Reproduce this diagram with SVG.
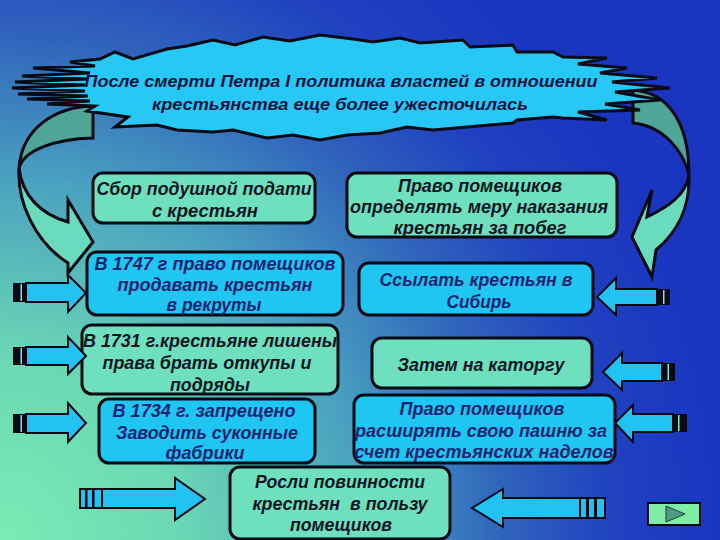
<svg xmlns="http://www.w3.org/2000/svg" width="720" height="540" viewBox="0 0 720 540">
  <defs>
    <radialGradient id="bgGrad" gradientUnits="userSpaceOnUse" cx="0" cy="540" r="720">
      <stop offset="0" stop-color="#7aecb4"/>
      <stop offset="0.25" stop-color="#6ad8b4"/>
      <stop offset="0.5" stop-color="#4aa2c0"/>
      <stop offset="0.7" stop-color="#3064bc"/>
      <stop offset="0.85" stop-color="#2042c0"/>
      <stop offset="1" stop-color="#1a36c0"/>
    </radialGradient>
    <style>
      .box-m { fill: #6fe0be; stroke: #0a0a14; stroke-width: 3; }
      .box-c { fill: #20c6f2; stroke: #0a0a14; stroke-width: 3; }
      .t { font-family: "Liberation Sans", Arial, sans-serif; font-weight: bold; font-style: italic; font-size: 18px; text-anchor: middle; }
      .tm { fill: #0e1624; }
      .tc { fill: #1b2470; }
      .tb { fill: #12143e; font-size: 17px; }
      .arr { fill: #22c2f2; stroke: #0a0a14; stroke-width: 2; stroke-linejoin: miter; }
      .bar { fill: #0a0a14; }
      .stripe { fill: #7fe6e0; }
      .back { fill: #4fa596; stroke: #0a0a14; stroke-width: 3; stroke-linejoin: miter; }
      .front { fill: #6adcbd; stroke: #0a0a14; stroke-width: 3; stroke-linejoin: miter; }
    </style>
  </defs>

  <rect x="0" y="0" width="720" height="540" fill="url(#bgGrad)"/>

  <g id="curved-arrows">
    <g id="curve-left">
      <path class="back" d="M93,106 C55,107 22,128 19,168 C24,150 55,139 93,138 Z"/>
      <path class="front" d="M19,168 C17,202 35,242 68,263 L68,273 L93,242 L68,200 L68,222 C40,214 22,195 19,168 Z"/>
    </g>
    <g id="curve-right">
      <path class="back" d="M633,90 C665,92 689,118 689,175 C683,150 663,126 633,123 Z"/>
      <path class="front" d="M689,175 C690,203 680,230 656,250 L652,277 L632,237 L652,190 L647,217 C668,207 686,195 689,175 Z"/>
    </g>
  </g>

  <g id="burst">
    <polygon fill="#28c8f6" stroke="#0a0a14" stroke-width="3" stroke-linejoin="miter" points="115,52 133,59 167,49 187,46 213,40 235,45 263,37 290,41 320,35 353,39 373,42 400,38 420,43 463,40 470,47 513,45 517,52 553,52 563,57 607,58 578,64 627,68 600,73 657,78 612,82 670,88 615,92 660,100 605,104 640,110 578,112 607,120 563,118 553,117 517,120 513,123 467,127 433,130 407,127 380,133 347,135 320,140 293,135 267,138 233,130 213,132 177,130 157,125 115,127 128,117 87,111 95,106 47,104 90,101 27,99 88,96 18,94 85,91 12,88 85,85 15,82 88,79 22,76 90,73 33,68 95,66 70,62 100,59"/>
    <text class="t tb" x="341" y="87" textLength="513" lengthAdjust="spacingAndGlyphs">После смерти Петра I политика властей в отношении</text>
    <text class="t tb" x="340" y="110" textLength="376" lengthAdjust="spacingAndGlyphs">крестьянства еще более ужесточилась</text>
  </g>

  <g id="box1">
    <rect class="box-m" x="93" y="173" width="222" height="50" rx="10"/>
    <text class="t tm" x="204" y="195" textLength="215" lengthAdjust="spacingAndGlyphs">Сбор подушной подати</text>
    <text class="t tm" x="205" y="217" textLength="106" lengthAdjust="spacingAndGlyphs">с крестьян</text>
  </g>

  <g id="box2">
    <rect class="box-m" x="347" y="173" width="270" height="64" rx="10"/>
    <text class="t tm" x="480" y="192" textLength="164" lengthAdjust="spacingAndGlyphs">Право помещиков</text>
    <text class="t tm" x="479" y="213" textLength="258" lengthAdjust="spacingAndGlyphs">определять меру наказания</text>
    <text class="t tm" x="480" y="234" textLength="173" lengthAdjust="spacingAndGlyphs">крестьян за побег</text>
  </g>

  <g id="box3">
    <rect class="box-c" x="87" y="252" width="256" height="63" rx="10"/>
    <text class="t tc" x="215" y="270" textLength="241" lengthAdjust="spacingAndGlyphs">В 1747 г право помещиков</text>
    <text class="t tc" x="215" y="291" textLength="195" lengthAdjust="spacingAndGlyphs">продавать крестьян</text>
    <text class="t tc" x="214" y="311" textLength="95" lengthAdjust="spacingAndGlyphs">в рекруты</text>
  </g>

  <g id="box4">
    <rect class="box-c" x="359" y="263" width="234" height="52" rx="10"/>
    <text class="t tc" x="476" y="286" textLength="193" lengthAdjust="spacingAndGlyphs">Ссылать крестьян в</text>
    <text class="t tc" x="479" y="308" textLength="65" lengthAdjust="spacingAndGlyphs">Сибирь</text>
  </g>

  <g id="box5">
    <rect class="box-m" x="82" y="325" width="256" height="69" rx="10"/>
    <text class="t tm" x="210" y="347" textLength="254" lengthAdjust="spacingAndGlyphs">В 1731 г.крестьяне лишены</text>
    <text class="t tm" x="207" y="369" textLength="209" lengthAdjust="spacingAndGlyphs">права брать откупы и</text>
    <text class="t tm" x="210" y="391" textLength="80" lengthAdjust="spacingAndGlyphs">подряды</text>
  </g>

  <g id="box6">
    <rect class="box-m" x="372" y="338" width="220" height="50" rx="10"/>
    <text class="t tm" x="481" y="371" textLength="167" lengthAdjust="spacingAndGlyphs">Затем на каторгу</text>
  </g>

  <g id="box7">
    <rect class="box-c" x="99" y="399" width="216" height="64" rx="10"/>
    <text class="t tc" x="204" y="417" textLength="183" lengthAdjust="spacingAndGlyphs">В 1734 г. запрещено</text>
    <text class="t tc" x="207" y="439" textLength="182" lengthAdjust="spacingAndGlyphs">Заводить суконные</text>
    <text class="t tc" x="205" y="459" textLength="79" lengthAdjust="spacingAndGlyphs">фабрики</text>
  </g>

  <g id="box8">
    <rect class="box-c" x="354" y="395" width="261" height="68" rx="10"/>
    <text class="t tc" x="482" y="415" textLength="165" lengthAdjust="spacingAndGlyphs">Право помещиков</text>
    <text class="t tc" x="481" y="437" textLength="252" lengthAdjust="spacingAndGlyphs">расширять свою пашню за</text>
    <text class="t tc" x="484" y="458" textLength="259" lengthAdjust="spacingAndGlyphs">счет крестьянских наделов</text>
  </g>

  <g id="box9">
    <rect class="box-m" x="230" y="467" width="220" height="72" rx="10"/>
    <text class="t tm" x="340" y="488" textLength="170" lengthAdjust="spacingAndGlyphs">Росли повинности</text>
    <text class="t tm" x="340" y="510" textLength="175" lengthAdjust="spacingAndGlyphs" xml:space="preserve">крестьян  в пользу</text>
    <text class="t tm" x="341" y="531" textLength="102" lengthAdjust="spacingAndGlyphs">помещиков</text>
  </g>

  <g id="connectors">
    <path class="arr" d="M26,283 L68,283 L68,275 L86,293 L68,312 L68,302 L26,302 Z"/>
    <rect class="bar" x="13" y="283" width="13" height="19"/>
    <rect class="stripe" x="20.5" y="284" width="1.5" height="17"/>

    <path class="arr" d="M26,347 L68,347 L68,337 L86,356 L68,374 L68,365 L26,365 Z"/>
    <rect class="bar" x="13" y="347" width="13" height="18"/>
    <rect class="stripe" x="20.5" y="348" width="1.5" height="16"/>

    <path class="arr" d="M26,414 L68,414 L68,403 L86,423 L68,442 L68,433 L26,433 Z"/>
    <rect class="bar" x="13" y="414" width="13" height="19"/>
    <rect class="stripe" x="20.5" y="415" width="1.5" height="17"/>

    <path class="arr" d="M102,489 L175,489 L175,478 L205,499 L175,520 L175,508 L102,508 Z"/>
    <rect x="80" y="489" width="22" height="19" fill="#22c2f2" stroke="#0a0a14" stroke-width="2"/>
    <rect class="bar" x="85" y="489" width="2.5" height="19"/>
    <rect class="bar" x="92" y="489" width="2.5" height="19"/>

    <path class="arr" d="M657,289 L616,289 L616,278 L597,297 L616,315 L616,305 L657,305 Z"/>
    <rect class="bar" x="657" y="289" width="13" height="16"/>
    <rect class="stripe" x="663" y="290" width="1.5" height="14"/>

    <path class="arr" d="M662,363 L622,363 L622,353 L603,372 L622,390 L622,381 L662,381 Z"/>
    <rect class="bar" x="662" y="363" width="13" height="18"/>
    <rect class="stripe" x="667.5" y="364" width="1.5" height="16"/>

    <path class="arr" d="M673,414 L633,414 L633,405 L615,423 L633,442 L633,432 L673,432 Z"/>
    <rect class="bar" x="673" y="414" width="14" height="18"/>
    <rect class="stripe" x="678" y="415" width="1.5" height="16"/>

    <path class="arr" d="M580,498 L503,498 L503,489 L472,508 L503,527 L503,518 L580,518 Z"/>
    <rect x="580" y="498" width="25" height="20" fill="#22c2f2" stroke="#0a0a14" stroke-width="2"/>
    <rect class="bar" x="586" y="498" width="3" height="20"/>
    <rect class="bar" x="594" y="498" width="3" height="20"/>
  </g>

  <g id="next-button">
    <rect x="648" y="503" width="52" height="22" fill="#7eeea6" stroke="#0a0a14" stroke-width="2"/>
    <polygon points="666,506 685,514 666,522" fill="#4e9a82" stroke="#23403a" stroke-width="1"/>
  </g>
</svg>
